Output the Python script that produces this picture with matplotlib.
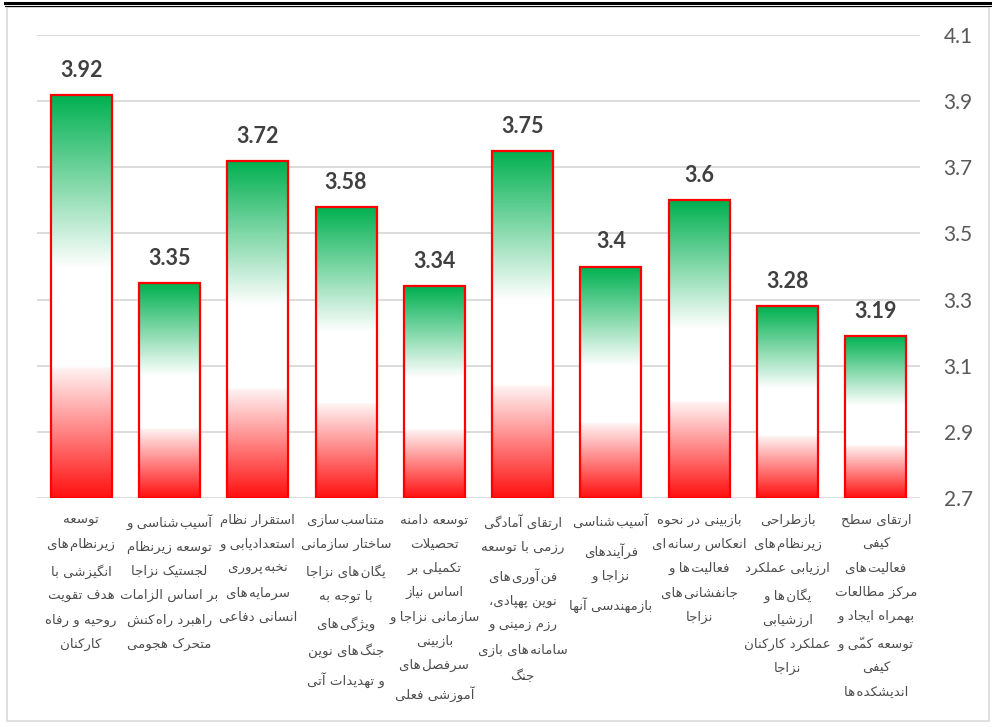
import numpy as np
import matplotlib
matplotlib.use('Agg')
import matplotlib.pyplot as plt
from matplotlib.colors import LinearSegmentedColormap
from matplotlib.patches import Rectangle
from matplotlib.lines import Line2D

# data
values = [3.92, 3.35, 3.72, 3.58, 3.34, 3.75, 3.4, 3.6, 3.28, 3.19]
value_text = ['3.92', '3.35', '3.72', '3.58', '3.34', '3.75', '3.4', '3.6', '3.28', '3.19']
categories = [
    ['توسعه', 'زیرنظام‌های', 'انگیزشی با', 'هدف تقویت', 'روحیه و رفاه', 'کارکنان'],
    ['آسیب‌شناسی و', 'توسعه زیرنظام', 'لجستیک نزاجا', 'بر اساس الزامات', 'راهبرد راه‌کنش', 'متحرک هجومی'],
    ['استقرار نظام', 'استعدادیابی و', 'نخبه‌پروری', 'سرمایه‌های', 'انسانی دفاعی'],
    ['متناسب‌سازی', 'ساختار سازمانی', 'یگان‌های نزاجا', 'با توجه به', 'ویژگی‌های', 'جنگ‌های نوین', 'و تهدیدات آتی'],
    ['توسعه دامنه', 'تحصیلات', 'تکمیلی بر', 'اساس نیاز', 'سازمانی نزاجا و', 'بازبینی', 'سرفصل‌های', 'آموزشی فعلی'],
    ['ارتقای آمادگی', 'رزمی با توسعه', 'فن‌آوری‌های', 'نوین پهپادی،', 'رزم زمینی و', 'سامانه‌های بازی', 'جنگ'],
    ['آسیب‌شناسی', 'فرآیندهای', 'نزاجا و', 'بازمهندسی آنها'],
    ['بازبینی در نحوه', 'انعکاس رسانه‌ای', 'فعالیت‌ها و', 'جانفشانی‌های', 'نزاجا'],
    ['بازطراحی', 'زیرنظام‌های', 'ارزیابی عملکرد', 'یگان‌ها و', 'ارزشیابی', 'عملکرد کارکنان', 'نزاجا'],
    ['ارتقای سطح', 'کیفی', 'فعالیت‌های', 'مرکز مطالعات', 'بهمراه ایجاد و', 'توسعه کمّی و', 'کیفی', 'اندیشکده‌ها'],
]
yticks = [2.7, 2.9, 3.1, 3.3, 3.5, 3.7, 3.9, 4.1]
ymin = 2.7

# presentation forms: isolated, final, initial, medial
FORMS = {
    'ا': (0xFE8D, 0xFE8E), 'آ': (0xFE81, 0xFE82), 'أ': (0xFE83, 0xFE84), 'إ': (0xFE87, 0xFE88),
    'ب': (0xFE8F, 0xFE90, 0xFE91, 0xFE92), 'پ': (0xFB56, 0xFB57, 0xFB58, 0xFB59),
    'ت': (0xFE95, 0xFE96, 0xFE97, 0xFE98), 'ث': (0xFE99, 0xFE9A, 0xFE9B, 0xFE9C),
    'ج': (0xFE9D, 0xFE9E, 0xFE9F, 0xFEA0), 'چ': (0xFB7A, 0xFB7B, 0xFB7C, 0xFB7D),
    'ح': (0xFEA1, 0xFEA2, 0xFEA3, 0xFEA4), 'خ': (0xFEA5, 0xFEA6, 0xFEA7, 0xFEA8),
    'د': (0xFEA9, 0xFEAA), 'ذ': (0xFEAB, 0xFEAC), 'ر': (0xFEAD, 0xFEAE),
    'ز': (0xFEAF, 0xFEB0), 'ژ': (0xFB8A, 0xFB8B),
    'س': (0xFEB1, 0xFEB2, 0xFEB3, 0xFEB4), 'ش': (0xFEB5, 0xFEB6, 0xFEB7, 0xFEB8),
    'ص': (0xFEB9, 0xFEBA, 0xFEBB, 0xFEBC), 'ض': (0xFEBD, 0xFEBE, 0xFEBF, 0xFEC0),
    'ط': (0xFEC1, 0xFEC2, 0xFEC3, 0xFEC4), 'ظ': (0xFEC5, 0xFEC6, 0xFEC7, 0xFEC8),
    'ع': (0xFEC9, 0xFECA, 0xFECB, 0xFECC), 'غ': (0xFECD, 0xFECE, 0xFECF, 0xFED0),
    'ف': (0xFED1, 0xFED2, 0xFED3, 0xFED4), 'ق': (0xFED5, 0xFED6, 0xFED7, 0xFED8),
    'ک': (0xFB8E, 0xFB8F, 0xFB90, 0xFB91), 'گ': (0xFB92, 0xFB93, 0xFB94, 0xFB95),
    'ل': (0xFEDD, 0xFEDE, 0xFEDF, 0xFEE0), 'م': (0xFEE1, 0xFEE2, 0xFEE3, 0xFEE4),
    'ن': (0xFEE5, 0xFEE6, 0xFEE7, 0xFEE8), 'ه': (0xFEE9, 0xFEEA, 0xFEEB, 0xFEEC),
    'و': (0xFEED, 0xFEEE), 'ی': (0xFBFC, 0xFBFD, 0xFBFE, 0xFBFF),
    'ئ': (0xFE89, 0xFE8A, 0xFE8B, 0xFE8C),
}
MARKS = '\u064b\u064c\u064d\u064e\u064f\u0650\u0651\u0652'
LAMALEF = {'ا': (0xFEFB, 0xFEFC), 'آ': (0xFEF5, 0xFEF6)}


def shape(text):
    # contextual forms by hand, then reversed for left-to-right drawing
    chars = list(text)
    n = len(chars)

    def neighbour(i, step):
        j = i + step
        while 0 <= j < n and chars[j] in MARKS:
            j += step
        return j if 0 <= j < n else None

    out = []
    i = 0
    while i < n:
        c = chars[i]
        if c in MARKS:
            out.append(c)
            i += 1
            continue
        if c not in FORMS:
            out.append('\u200a' if c == '\u200c' else c)
            i += 1
            continue
        p = neighbour(i, -1)
        prev_joins = p is not None and chars[p] in FORMS and len(FORMS[chars[p]]) == 4
        nx = neighbour(i, 1)
        if c == 'ل' and nx is not None and chars[nx] in LAMALEF:
            out.append(chr(LAMALEF[chars[nx]][1 if prev_joins else 0]))
            i = nx + 1
            continue
        f = FORMS[c]
        next_joins = len(f) == 4 and nx is not None and chars[nx] in FORMS
        if prev_joins and next_joins:
            g = f[3]
        elif next_joins:
            g = f[2]
        elif prev_joins:
            g = f[1]
        else:
            g = f[0]
        out.append(chr(g))
        i += 1
    return ''.join(out[::-1])


fig = plt.figure(figsize=(9.92, 7.27), dpi=100)
ax = fig.add_axes([37 / 992, 1 - 498 / 727, (920 - 37) / 992, (498 - 35) / 727])

x = np.arange(len(values))
bars = ax.bar(x, np.array(values) - ymin, bottom=ymin, width=0.69,
              facecolor='none', edgecolor='#FF0000', linewidth=1.6, zorder=3)

cmap = LinearSegmentedColormap.from_list('rwg', [
    (0.0, '#FF1010'), (0.32, '#FFF2F2'), (0.325, '#FFFFFF'),
    (0.57, '#FFFFFF'), (1.0, '#00B050')])
grad = np.linspace(0, 1, 256).reshape(-1, 1)
for b in bars:
    x0 = b.get_x()
    ax.imshow(grad, cmap=cmap, origin='lower', aspect='auto', zorder=2,
              extent=[x0, x0 + b.get_width(), b.get_y(), b.get_y() + b.get_height()])

for xi, v, t in zip(x, values, value_text):
    ax.annotate(t, xy=(xi, v), xytext=(0, 18), textcoords='offset pixels',
                ha='center', va='baseline', fontsize=15.5, fontweight='bold',
                color='#404040', family='Lato')

for xi, lines in zip(x, categories):
    ax.annotate('\n'.join(shape(l) for l in lines), xy=(xi, 0), xycoords=('data', 'axes fraction'),
                xytext=(0, -16), textcoords='offset pixels', ha='center', va='top',
                multialignment='center', fontsize=9.6, color='#4d4d4d',
                family='DejaVu Sans', linespacing=2.1)

ax.set_xlim(-0.5, len(values) - 0.5)
ax.set_ylim(yticks[0], yticks[-1])
ax.set_yticks(yticks)
ax.set_yticklabels(['{:.1f}'.format(t) for t in yticks])
ax.yaxis.tick_right()
ax.tick_params(axis='y', length=0, pad=17, labelsize=15, labelcolor='#595959')
for lab in ax.get_yticklabels():
    lab.set_family('Lato')
ax.set_xticks([])
ax.grid(axis='y', color='#D9D9D9', linewidth=1.3, zorder=0)
ax.set_axisbelow(True)
for s in ax.spines.values():
    s.set_visible(False)

fig.add_artist(Rectangle((7 / 992, 1 - 721 / 727), (989 - 7) / 992, (721 - 7) / 727,
                         transform=fig.transFigure, fill=False, edgecolor='#D9D9D9', linewidth=1.2))
fig.add_artist(Line2D([5 / 992, 1], [1 - 2.5 / 727] * 2, transform=fig.transFigure, color='black', linewidth=2.2))
fig.add_artist(Line2D([5 / 992, 1], [1 - 5.5 / 727] * 2, transform=fig.transFigure, color='black', linewidth=0.8))

fig.savefig('out.png', dpi=100)
